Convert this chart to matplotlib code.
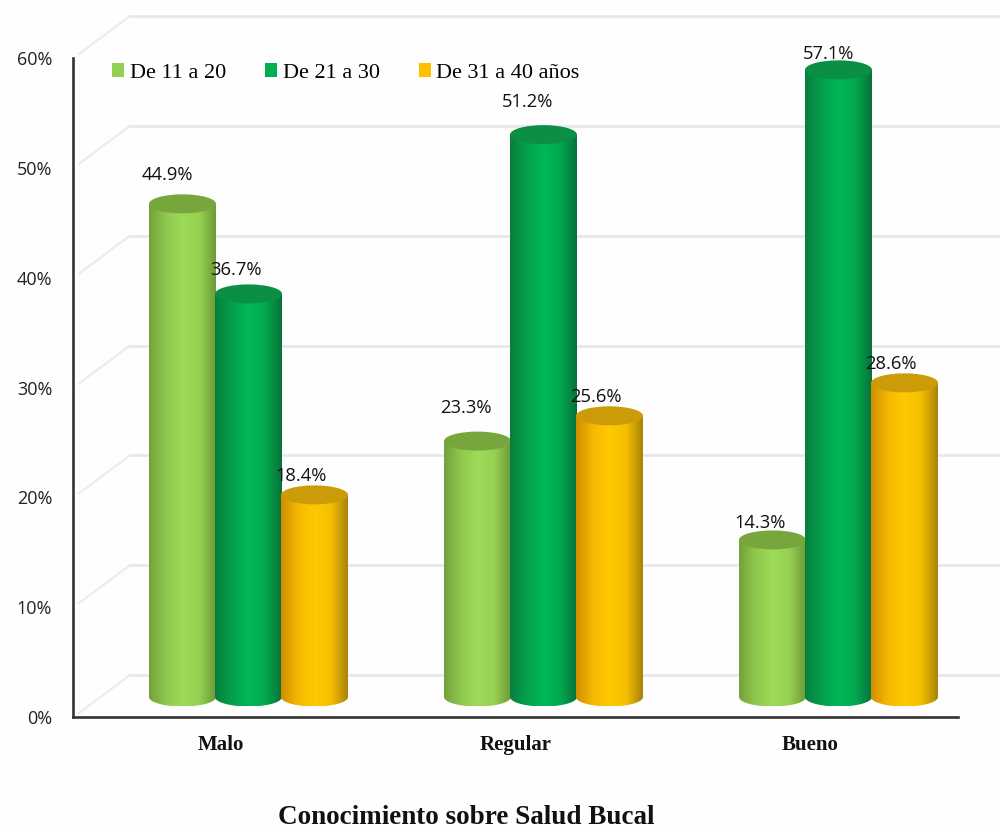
import numpy as np
import matplotlib
matplotlib.use("Agg")
import matplotlib.pyplot as plt
from matplotlib.colors import LinearSegmentedColormap
from matplotlib.lines import Line2D
from matplotlib.patches import Ellipse, Patch, PathPatch
from matplotlib.path import Path
from matplotlib.transforms import Affine2D, IdentityTransform, blended_transform_factory

# Survey results (percent of respondents)
categories = ["Malo", "Regular", "Bueno"]
series_names = ["De 11 a 20", "De 21 a 30", "De 31 a 40 años"]
age_11_20 = [44.9, 23.3, 14.3]
age_21_30 = [36.7, 51.2, 57.1]
age_31_40 = [18.4, 25.6, 28.6]
y_ticks = [0, 10, 20, 30, 40, 50, 60]

SERIES = [age_11_20, age_21_30, age_31_40]
FLAT = ["#92d050", "#00b050", "#ffc000"]
CAPS = ["#77a63c", "#0b8f45", "#cc9c08"]
RAMPS = [
    ["#74a23a", "#8fc84e", "#9ddb58", "#97d253", "#6d9a36"],
    ["#067f3e", "#04a04c", "#00b857", "#03a94f", "#07723a"],
    ["#cf8f00", "#f5b800", "#ffca00", "#f5bf00", "#a9830a"],
]

# Pixel offsets of the pseudo-3D projection
WALL_DX, WALL_DY = 57, 42
BAR_DX, BAR_DY = 28, 20
BAR_W_PX, CAP_RY_PX = 33.5, 9.5
STEP_PX = 66

# Nudges (px) of each value label relative to its bar top, by series then category
label_dx = [[-15, -12, -12], [-13, -16, -10], [-13, -14, -14]]
label_dy = [[29, 33, 17], [24, 33, 16], [19, 19, 19]]

fig = plt.figure(figsize=(10, 8.3), dpi=100, facecolor="#fefefe")
ax = fig.add_axes([0.073, (830 - 717) / 830, 0.885, (717 - 58) / 830])
ax.set_facecolor("none")
ax.set_xlim(-0.5, 2.5)
ax.set_ylim(0, 60)

label_font = "Open Sans"
serif = "Liberation Serif"

# Back wall and side wall grid
wall_tf = blended_transform_factory(
    IdentityTransform(), ax.transData + Affine2D().translate(0, WALL_DY))
for tick in y_ticks:
    ax.add_line(Line2D([130, 1000], [tick, tick], transform=wall_tf,
                       color="#e8e8ec", lw=2.0, clip_on=False, zorder=1))
    y_px = ax.transData.transform((0, tick))[1]
    ax.add_line(Line2D([79, 130], [y_px + 4, y_px + WALL_DY], transform=IdentityTransform(),
                       color="#ececec", lw=1.6, clip_on=False, zorder=1))

bar_tf = ax.transData + Affine2D().translate(BAR_DX, BAR_DY)
x_scale = ax.transData.transform((1, 0))[0] - ax.transData.transform((0, 0))[0]
y_scale = ax.transData.transform((0, 1))[1] - ax.transData.transform((0, 0))[1]
half_w = BAR_W_PX / x_scale
cap_ry = CAP_RY_PX / y_scale
step = STEP_PX / x_scale

# Cylinders: a shaded body with a darker elliptical cap
z = 2
for s, (values, ramp, cap) in enumerate(zip(SERIES, RAMPS, CAPS)):
    cmap = LinearSegmentedColormap.from_list(series_names[s], ramp)
    for c, value in enumerate(values):
        xc = c + (s - 1) * step
        t = np.linspace(np.pi, 2 * np.pi, 40)
        outline = np.vstack([
            np.column_stack([xc + half_w * np.cos(t), cap_ry * np.sin(t)]),
            [[xc + half_w, value], [xc - half_w, value], [xc - half_w, 0]],
        ])
        body = PathPatch(Path(outline, closed=False), transform=bar_tf,
                         facecolor="none", edgecolor="none", zorder=z)
        ax.add_patch(body)
        img = ax.imshow(np.linspace(0, 1, 128).reshape(1, -1), cmap=cmap, aspect="auto",
                        extent=[xc - half_w, xc + half_w, -cap_ry, value],
                        transform=bar_tf, zorder=z, interpolation="bilinear")
        img.set_clip_path(body)
        ax.add_patch(Ellipse((xc, value), 2 * half_w, 2 * cap_ry, transform=bar_tf,
                             facecolor=cap, edgecolor="none", zorder=z + 0.1, clip_on=False))
        z += 0.2
ax.set_xlim(-0.5, 2.5)
ax.set_ylim(0, 60)

# Value labels
for s, values in enumerate(SERIES):
    for c, value in enumerate(values):
        xc = c + (s - 1) * step
        ax.annotate(f"{value:.1f}%", xy=(xc, value), xycoords=bar_tf,
                    xytext=(label_dx[s][c] * 0.72, label_dy[s][c] * 0.72),
                    textcoords="offset points", ha="center", va="center",
                    fontsize=13.2, family=label_font, color="#111111", zorder=20)

# Axes
for side in ("top", "right"):
    ax.spines[side].set_visible(False)
for side in ("left", "bottom"):
    ax.spines[side].set_color("#333333")
    ax.spines[side].set_linewidth(1.9)
    ax.spines[side].set_zorder(15)
ax.set_yticks(y_ticks)
ax.set_yticklabels([f"{t}%" for t in y_ticks], family=label_font, fontsize=13, color="#222222")
ax.set_xticks(range(len(categories)))
ax.set_xticklabels(categories, family=serif, fontweight="bold", fontsize=15, color="#111111")
ax.tick_params(axis="both", length=0)
ax.tick_params(axis="y", pad=15)
ax.tick_params(axis="x", pad=13)

# Legend across the top
handles = [Patch(facecolor=col, edgecolor="none") for col in FLAT]
ax.legend(handles, series_names, ncol=3, frameon=False, loc="center left",
          bbox_to_anchor=(112 / 1000, (830 - 73) / 830), bbox_transform=fig.transFigure,
          prop={"family": serif, "size": 16}, handlelength=0.55, handleheight=0.55,
          handletextpad=0.25, columnspacing=1.75, borderpad=0, borderaxespad=0)

fig.text(466 / 1000, (830 - 817) / 830, "Conocimiento sobre Salud Bucal", family=serif,
         fontweight="bold", fontsize=19.5, ha="center", va="center", color="#111111")

fig.savefig("out.png", dpi=100, facecolor=fig.get_facecolor())
